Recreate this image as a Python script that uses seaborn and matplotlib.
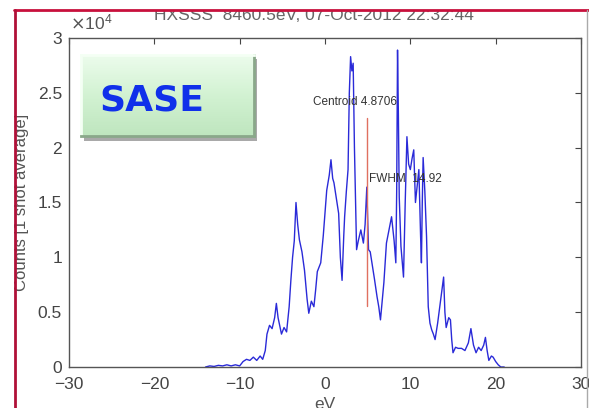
import numpy as np
import pandas as pd
import matplotlib
matplotlib.use("Agg")
import matplotlib.pyplot as plt
from matplotlib.patches import Rectangle
from matplotlib.lines import Line2D
from matplotlib.ticker import FuncFormatter
from matplotlib.colors import LinearSegmentedColormap
import seaborn as sns

# -------------------------
# Spectrum data (eV, counts)
# -------------------------

energy_ev = [
    -14.0, -13.5, -13.0, -12.5, -12.0, -11.5, -11.0, -10.5, -10.0, -9.6,
    -9.2, -8.8, -8.4, -8.0, -7.6, -7.3, -7.0, -6.8, -6.5, -6.2,
    -5.9, -5.7, -5.5, -5.1, -4.8, -4.5, -4.2, -4.0, -3.8, -3.6,
    -3.4, -3.2, -3.0, -2.7, -2.4, -2.1, -1.9, -1.6, -1.3, -1.1,
    -0.9, -0.7, -0.5, -0.2, 0.2, 0.5, 0.7, 0.9, 1.05, 1.3,
    1.6, 1.8, 2.0, 2.2, 2.3, 2.5, 2.7, 2.85, 3.0, 3.15,
    3.3, 3.45, 3.6, 3.7, 3.9, 4.2, 4.5, 4.7, 4.9, 5.1,
    5.3, 5.5, 5.8, 6.1, 6.3, 6.5, 6.7, 6.9, 7.2, 7.5,
    7.8, 8.1, 8.3, 8.4, 8.5, 8.6, 8.7, 8.9, 9.2, 9.4,
    9.6, 9.8, 10.0, 10.2, 10.4, 10.6, 10.8, 11.0, 11.2, 11.3,
    11.4, 11.5, 11.7, 11.9, 12.1, 12.3, 12.5, 12.7, 12.9, 13.2,
    13.5, 13.7, 13.9, 14.05, 14.2, 14.5, 14.7, 14.85, 15.0, 15.3,
    15.6, 16.0, 16.4, 16.8, 17.1, 17.4, 17.7, 18.0, 18.3, 18.6,
    18.8, 19.0, 19.2, 19.5, 19.7, 20.0, 20.3, 20.6, 21.0,
]

counts = [
    0, 100, 50, 150, 100, 200, 100, 200, 100, 500,
    700, 600, 900, 600, 1000, 700, 1500, 3000, 3800, 3500,
    4500, 5800, 4500, 3000, 3600, 3200, 5500, 7900, 10000, 11500,
    15000, 13000, 11600, 10500, 8800, 6200, 4900, 6000, 5500, 7000,
    8700, 9100, 9500, 12000, 16100, 17500, 18900, 17200, 16800, 15500,
    14000, 10000, 7900, 12000, 13700, 16000, 18000, 25000, 28300, 27000,
    27700, 20000, 14300, 10700, 11500, 12500, 11300, 13000, 16400, 10700,
    10500, 9500, 8000, 6400, 5500, 4300, 6000, 7700, 11300, 12500,
    13700, 11500, 9500, 16000, 28900, 23000, 15500, 11000, 8200, 15000,
    21000, 18500, 18000, 19000, 19800, 15000, 16500, 18000, 12000, 9500,
    15000, 19100, 16000, 11900, 5500, 4000, 3400, 3000, 2500, 4000,
    5800, 7000, 8200, 5000, 3600, 4500, 4300, 2500, 1300, 1800,
    1700, 1700, 1500, 2200, 3500, 2000, 1300, 1800, 1500, 2000,
    2700, 1500, 600, 1000, 900, 500, 200, 0, 0,
]

centroid_ev = 4.8706
fwhm_ev = 14.92
centroid_line = [5600, 22700]

x_ticks = [-30, -20, -10, 0, 10, 20, 30]
y_ticks = [0, 5000, 10000, 15000, 20000, 25000, 30000]

title_text = "HXSSS  8460.5eV, 07-Oct-2012 22:32:44"
y_label = "Counts [1 shot average]"
x_label = "eV"
badge_text = "SASE"

df = pd.DataFrame({"eV": energy_ev, "counts": counts})

# -------------------------
# Figure setup
# -------------------------

W, H = 589, 408

def fx(px):
    return px / W

def fy(py):
    return 1 - py / H

sns.set_theme(style="white")
plt.rcParams["font.family"] = ["Liberation Sans", "DejaVu Sans"]

fig = plt.figure(figsize=(W / 100, H / 100), dpi=100)
fig.patch.set_facecolor("white")

ax = fig.add_axes([fx(69), fy(367), fx(581) - fx(69), fy(38) - fy(367)])
ax.set_facecolor("white")

sns.lineplot(data=df, x="eV", y="counts", ax=ax, color="#2a2ad8",
             linewidth=1.0, sort=False, estimator=None)

ax.plot([centroid_ev, centroid_ev], centroid_line, color="#e07060", linewidth=1.0)

ax.text(-1.4, 24200, f"Centroid {centroid_ev:.4f}", fontsize=8.5,
        color="#333333", va="center", ha="left")
ax.text(5.1, 17100, f"FWHM  {fwhm_ev:.2f}", fontsize=8.5,
        color="#333333", va="center", ha="left")

ax.set_xlim(-30, 30)
ax.set_ylim(0, 30000)
ax.set_xticks(x_ticks)
ax.set_yticks(y_ticks)
ax.yaxis.set_major_formatter(FuncFormatter(lambda v, p: f"{v / 1e4:g}"))
ax.xaxis.set_major_formatter(FuncFormatter(lambda v, p: f"{v:g}".replace("-", "\u2212")))

ax.tick_params(direction="in", length=4, width=0.8, colors="#444444",
               labelsize=12.5, top=True, right=True, pad=5)
ax.tick_params(axis="x", pad=7)
for s in ax.spines.values():
    s.set_color("#555555")
    s.set_linewidth(1.0)

ax.set_xlabel(x_label, fontsize=12.5, color="#555555", labelpad=4)
ax.set_ylabel(y_label, fontsize=12, color="#555555", labelpad=6)
ax.set_title("")

fig.text(fx(70), fy(22), r"$\times\mathregular{10^4}$", fontsize=12.5,
         color="#555555", va="center", ha="left")
fig.text(fx(314), fy(15), title_text, fontsize=12.5, color="#666666",
         va="center", ha="center")

# -------------------------
# SASE badge
# -------------------------

shadow = Rectangle((fx(84), fy(141)), fx(257) - fx(84), fy(59) - fy(141),
                   transform=fig.transFigure, facecolor="#707070",
                   edgecolor="none", alpha=0.6, zorder=5)
fig.add_artist(shadow)

badge = fig.add_axes([fx(81), fy(136), fx(254) - fx(81), fy(55) - fy(136)])
badge.set_zorder(6)
grad_cmap = LinearSegmentedColormap.from_list("mint", ["#ecfcec", "#d2f2d2", "#bfe6bf"])
grad = np.linspace(0, 1, 64).reshape(-1, 1) * np.ones((1, 4))
badge.imshow(grad, cmap=grad_cmap, aspect="auto", extent=[0, 1, 0, 1], origin="upper")
badge.set_xlim(0, 1)
badge.set_ylim(0, 1)
badge.set_xticks([])
badge.set_yticks([])
for side, col in [("top", "#f4fff4"), ("left", "#f4fff4"),
                  ("right", "#8aa88a"), ("bottom", "#8aa88a")]:
    badge.spines[side].set_color(col)
    badge.spines[side].set_linewidth(2)
badge.text(0.41, 0.44, badge_text, fontsize=26, fontweight="bold",
           family="DejaVu Sans", color="#1030ea", ha="center", va="center")

# -------------------------
# Screenshot frame
# -------------------------

fig.add_artist(Rectangle((0, fy(10)), 1, 1 - fy(10), transform=fig.transFigure,
                         facecolor="white", edgecolor="none", zorder=20))
fig.add_artist(Rectangle((0, 0), fx(14), 1, transform=fig.transFigure,
                         facecolor="white", edgecolor="none", zorder=20))
fig.add_artist(Line2D([fx(14), 1], [fy(10), fy(10)], transform=fig.transFigure,
                      color="#c8103c", linewidth=2, zorder=21))
fig.add_artist(Line2D([fx(14.5), fx(14.5)], [0, fy(10)], transform=fig.transFigure,
                      color="#b01038", linewidth=2, zorder=21))
fig.add_artist(Line2D([fx(587), fx(587)], [0, fy(10)], transform=fig.transFigure,
                      color="#aaaaaa", linewidth=1, zorder=21))

fig.savefig("out.png", dpi=100)
plt.close(fig)
